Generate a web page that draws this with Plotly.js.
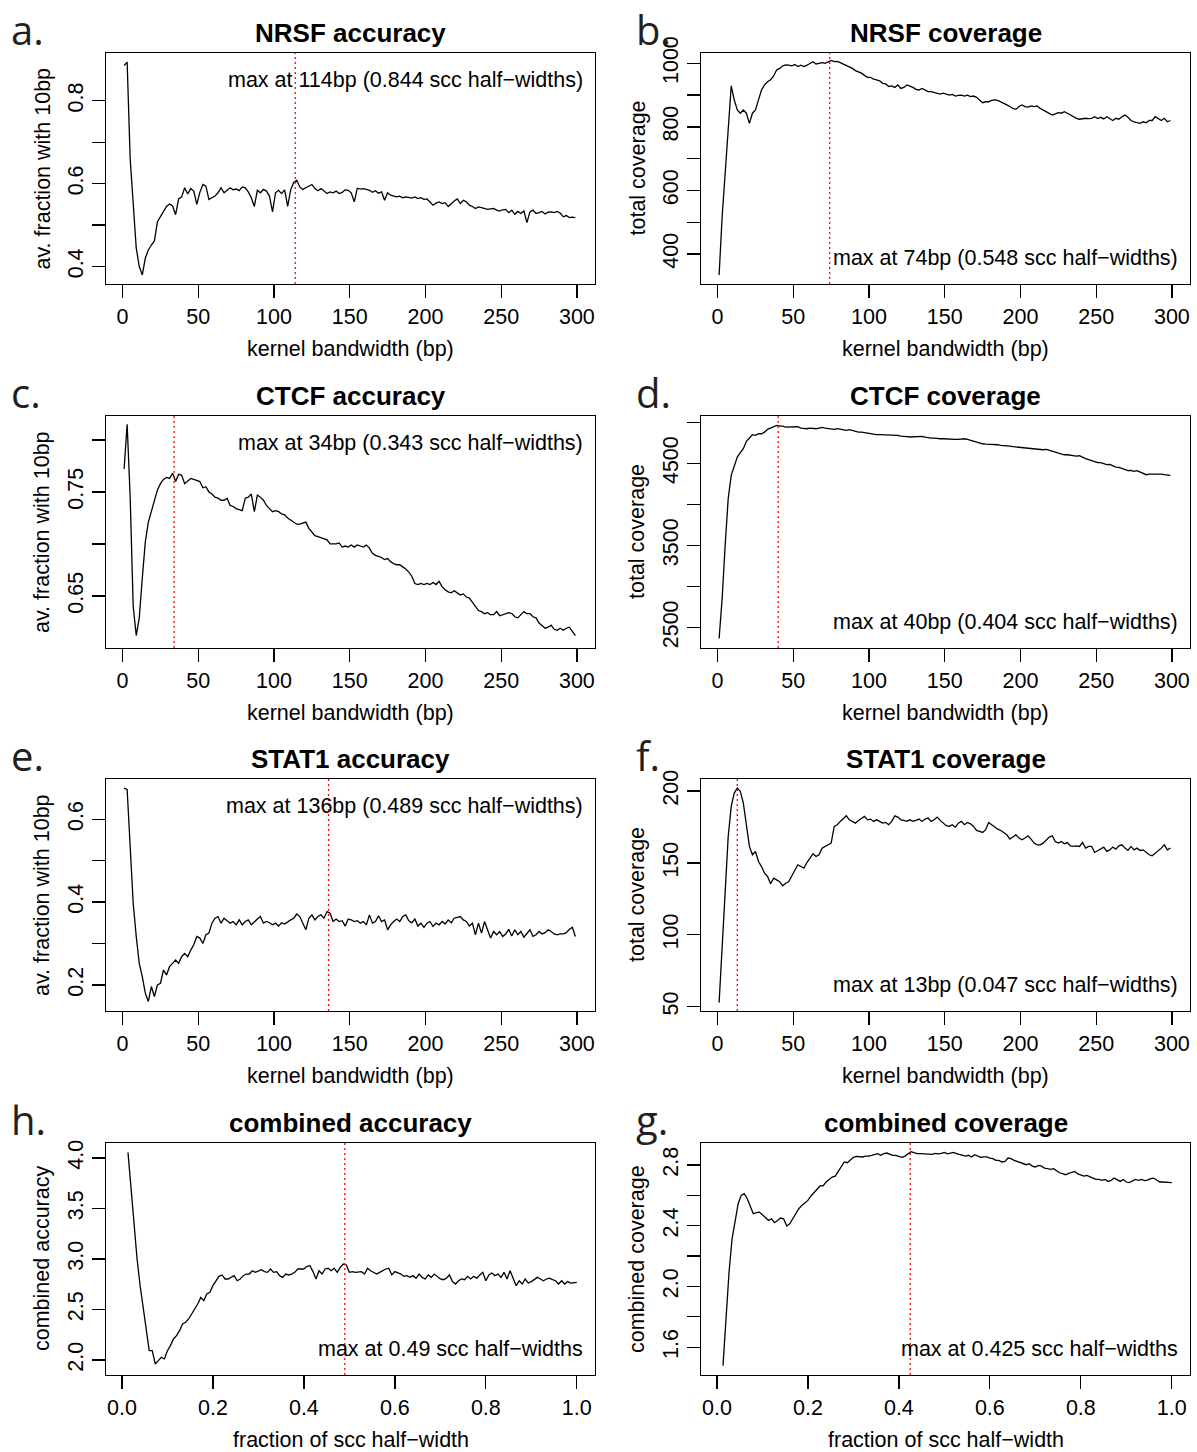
<!DOCTYPE html>
<html>
<head>
<meta charset="utf-8">
<script src="https://cdn.plot.ly/plotly-3.0.1.min.js"></script>
<style>
html, body { margin: 0; padding: 0; background: #ffffff; }
#chart { width: 1197px; height: 1452px; }
</style>
</head>
<body>
<div id="chart"></div>
<script>
// ---------------- data ----------------
// kernel bandwidth grid (bp) and fraction-of-scc-half-width grid
const bandwidthBp = [];
for (let b = 1; b <= 299; b += 2) bandwidthBp.push(b);
const sccFraction = [];
for (let i = 2; i <= 150; i++) sccFraction.push(i / 150);

const bpTicks = [0, 50, 100, 150, 200, 250, 300];
const fracTicks = [0, 0.2, 0.4, 0.6, 0.8, 1.0];
const fracTickText = ['0.0', '0.2', '0.4', '0.6', '0.8', '1.0'];

const nrsfAccuracy = [
0.885, 0.893, 0.660, 0.560, 0.445, 0.400, 0.380, 0.420, 0.440, 0.452,
0.462, 0.508, 0.520, 0.532, 0.545, 0.551, 0.546, 0.525, 0.563, 0.568,
0.590, 0.575, 0.588, 0.582, 0.550, 0.579, 0.598, 0.594, 0.562, 0.566,
0.570, 0.578, 0.590, 0.578, 0.584, 0.590, 0.585, 0.587, 0.583, 0.592,
0.590, 0.580, 0.566, 0.545, 0.584, 0.578, 0.586, 0.582, 0.570, 0.532,
0.578, 0.584, 0.576, 0.585, 0.545, 0.585, 0.603, 0.608, 0.592, 0.586,
0.590, 0.594, 0.598, 0.588, 0.583, 0.588, 0.582, 0.576, 0.580, 0.578,
0.582, 0.576, 0.579, 0.585, 0.584, 0.578, 0.556, 0.589, 0.587, 0.588,
0.586, 0.584, 0.579, 0.583, 0.577, 0.580, 0.560, 0.578, 0.572, 0.570,
0.568, 0.570, 0.566, 0.568, 0.567, 0.565, 0.568, 0.564, 0.566, 0.562,
0.563, 0.556, 0.548, 0.553, 0.556, 0.552, 0.554, 0.545, 0.552, 0.558,
0.563, 0.552, 0.560, 0.556, 0.548, 0.545, 0.540, 0.544, 0.542, 0.540,
0.538, 0.539, 0.540, 0.536, 0.534, 0.537, 0.538, 0.530, 0.536, 0.526,
0.533, 0.528, 0.534, 0.506, 0.532, 0.536, 0.528, 0.530, 0.533, 0.527,
0.531, 0.532, 0.530, 0.533, 0.529, 0.520, 0.523, 0.518, 0.519, 0.518];

const nrsfCoverage = [
334, 517, 654, 801, 929, 885, 853, 843, 853, 843,
811, 843, 853, 885, 916, 932, 942, 948, 960, 979,
984, 992, 995, 994, 992, 996, 990, 994, 990, 994,
1000, 1005, 998, 1000, 1002, 1000, 1004, 1009, 1005, 1006,
1002, 998, 994, 990, 984, 977, 974, 969, 962, 956,
956, 950, 948, 945, 937, 935, 927, 929, 924, 932,
921, 924, 932, 929, 924, 918, 916, 921, 916, 911,
911, 908, 906, 903, 906, 903, 900, 902, 897, 899,
900, 897, 900, 895, 897, 893, 885, 876, 879, 879,
883, 885, 883, 879, 874, 869, 864, 858, 855, 864,
869, 864, 862, 866, 864, 866, 858, 853, 848, 841,
837, 841, 845, 843, 848, 843, 837, 832, 827, 824,
826, 827, 826, 827, 832, 826, 830, 825, 832, 827,
820, 827, 824, 832, 837, 830, 820, 816, 813, 811,
816, 813, 820, 820, 832, 827, 820, 827, 816, 820];

const ctcfAccuracy = [
0.772, 0.815, 0.745, 0.640, 0.612, 0.629, 0.667, 0.702, 0.721, 0.731,
0.740, 0.752, 0.758, 0.762, 0.764, 0.763, 0.768, 0.760, 0.767, 0.766,
0.758, 0.761, 0.763, 0.762, 0.761, 0.760, 0.754, 0.755, 0.750, 0.748,
0.745, 0.744, 0.742, 0.742, 0.744, 0.737, 0.736, 0.734, 0.733, 0.732,
0.744, 0.745, 0.748, 0.731, 0.747, 0.745, 0.742, 0.737, 0.734, 0.731,
0.732, 0.731, 0.729, 0.728, 0.725, 0.723, 0.721, 0.719, 0.719, 0.720,
0.721, 0.715, 0.712, 0.708, 0.707, 0.706, 0.705, 0.704, 0.700, 0.700,
0.700, 0.701, 0.697, 0.698, 0.697, 0.699, 0.697, 0.699, 0.698, 0.697,
0.699, 0.696, 0.691, 0.689, 0.688, 0.687, 0.685, 0.686, 0.683, 0.681,
0.680, 0.680, 0.678, 0.676, 0.673, 0.669, 0.662, 0.661, 0.662, 0.661,
0.662, 0.661, 0.663, 0.661, 0.664, 0.659, 0.656, 0.654, 0.653, 0.655,
0.653, 0.651, 0.652, 0.649, 0.648, 0.644, 0.640, 0.636, 0.635, 0.633,
0.634, 0.632, 0.632, 0.635, 0.631, 0.632, 0.633, 0.634, 0.633, 0.630,
0.629, 0.632, 0.635, 0.633, 0.633, 0.630, 0.629, 0.624, 0.621, 0.619,
0.620, 0.622, 0.618, 0.617, 0.619, 0.617, 0.619, 0.620, 0.616, 0.612];

const ctcfCoverage = [
2366, 2853, 3502, 4070, 4354, 4476, 4577, 4630, 4679, 4768,
4808, 4849, 4841, 4861, 4861, 4881, 4914, 4930, 4938, 4962,
4954, 4954, 4942, 4942, 4946, 4950, 4946, 4930, 4922, 4922,
4930, 4922, 4922, 4930, 4938, 4930, 4922, 4914, 4914, 4922,
4914, 4906, 4902, 4910, 4898, 4889, 4881, 4881, 4873, 4865,
4865, 4857, 4849, 4849, 4849, 4841, 4849, 4841, 4849, 4841,
4833, 4833, 4825, 4821, 4825, 4821, 4829, 4829, 4821, 4812,
4808, 4808, 4800, 4800, 4800, 4796, 4796, 4792, 4792, 4792,
4796, 4800, 4792, 4780, 4768, 4760, 4752, 4739, 4735, 4735,
4727, 4735, 4727, 4719, 4719, 4715, 4711, 4703, 4699, 4695,
4687, 4687, 4679, 4679, 4670, 4670, 4666, 4666, 4670, 4658,
4654, 4638, 4626, 4614, 4605, 4605, 4597, 4597, 4589, 4593,
4573, 4557, 4545, 4532, 4516, 4508, 4508, 4492, 4484, 4488,
4468, 4455, 4451, 4435, 4419, 4411, 4415, 4403, 4411, 4395,
4386, 4362, 4370, 4370, 4374, 4370, 4370, 4362, 4362, 4354];

const stat1Accuracy = [
0.675, 0.672, 0.534, 0.397, 0.317, 0.252, 0.220, 0.180, 0.160, 0.196,
0.172, 0.200, 0.204, 0.236, 0.224, 0.244, 0.252, 0.260, 0.252, 0.268,
0.276, 0.268, 0.284, 0.297, 0.317, 0.313, 0.300, 0.321, 0.325, 0.349,
0.361, 0.365, 0.349, 0.361, 0.355, 0.349, 0.353, 0.345, 0.357, 0.345,
0.353, 0.357, 0.345, 0.353, 0.359, 0.365, 0.349, 0.353, 0.350, 0.345,
0.349, 0.342, 0.350, 0.347, 0.353, 0.357, 0.361, 0.371, 0.365, 0.349,
0.333, 0.361, 0.369, 0.357, 0.365, 0.369, 0.361, 0.377, 0.373, 0.353,
0.359, 0.353, 0.355, 0.342, 0.359, 0.357, 0.353, 0.355, 0.349, 0.353,
0.345, 0.369, 0.349, 0.353, 0.367, 0.353, 0.357, 0.333, 0.345, 0.353,
0.359, 0.353, 0.365, 0.369, 0.355, 0.350, 0.359, 0.342, 0.349, 0.339,
0.349, 0.353, 0.341, 0.349, 0.345, 0.353, 0.347, 0.357, 0.350, 0.361,
0.363, 0.365, 0.357, 0.353, 0.342, 0.349, 0.321, 0.349, 0.325, 0.353,
0.333, 0.313, 0.329, 0.321, 0.329, 0.317, 0.323, 0.334, 0.318, 0.333,
0.321, 0.329, 0.315, 0.325, 0.333, 0.317, 0.321, 0.329, 0.323, 0.326,
0.333, 0.329, 0.323, 0.321, 0.323, 0.323, 0.326, 0.334, 0.339, 0.317];

const stat1Coverage = [
52.8, 91.8, 133.6, 168.4, 189.3, 198.6, 202.1, 199.8, 191.6, 177.7,
161.5, 155.7, 158.0, 151.0, 147.5, 142.9, 140.6, 135.5, 139.4, 138.2,
137.0, 134.1, 135.9, 137.0, 140.6, 145.2, 148.7, 147.5, 146.4, 150.3,
153.3, 156.4, 154.5, 155.7, 160.3, 161.5, 162.6, 163.8, 175.4, 176.6,
178.9, 181.2, 182.8, 180.0, 178.9, 177.7, 179.6, 181.2, 182.4, 180.0,
180.5, 178.9, 180.0, 178.9, 177.7, 178.2, 176.6, 178.9, 182.8, 181.9,
180.0, 179.6, 178.9, 180.0, 178.9, 179.6, 180.5, 178.9, 180.5, 181.2,
178.9, 180.0, 181.9, 179.6, 177.7, 175.9, 175.4, 176.6, 174.9, 177.7,
178.9, 176.6, 178.2, 177.2, 175.4, 172.6, 171.9, 171.2, 173.1, 178.2,
176.6, 174.9, 173.5, 172.6, 171.2, 169.6, 166.6, 168.4, 169.6, 167.3,
166.1, 167.3, 168.9, 166.6, 163.8, 162.6, 162.6, 163.8, 166.1, 168.0,
168.9, 164.9, 163.8, 164.9, 163.3, 164.2, 161.9, 161.5, 161.9, 161.5,
164.2, 160.3, 161.5, 161.5, 157.3, 158.7, 159.6, 161.0, 158.0, 159.1,
161.0, 159.6, 161.9, 162.6, 160.3, 158.7, 161.5, 159.1, 160.3, 158.7,
159.1, 157.3, 155.7, 155.0, 156.8, 158.0, 160.3, 162.6, 159.1, 160.3];

const combinedAccuracy = [
4.056, 3.693, 3.330, 3.000, 2.736, 2.505, 2.274, 2.092, 2.092, 1.960,
1.993, 2.026, 2.010, 2.092, 2.142, 2.208, 2.241, 2.290, 2.356, 2.373,
2.406, 2.455, 2.505, 2.554, 2.620, 2.587, 2.653, 2.670, 2.736, 2.785,
2.828, 2.842, 2.802, 2.802, 2.818, 2.835, 2.785, 2.802, 2.835, 2.851,
2.851, 2.884, 2.868, 2.884, 2.894, 2.875, 2.868, 2.901, 2.868, 2.875,
2.835, 2.818, 2.851, 2.842, 2.851, 2.868, 2.901, 2.901, 2.901, 2.927,
2.934, 2.875, 2.802, 2.884, 2.851, 2.901, 2.908, 2.884, 2.908, 2.868,
2.917, 2.950, 2.941, 2.868, 2.875, 2.868, 2.868, 2.875, 2.851, 2.908,
2.884, 2.868, 2.851, 2.868, 2.884, 2.901, 2.908, 2.842, 2.875, 2.861,
2.851, 2.828, 2.835, 2.818, 2.835, 2.809, 2.851, 2.818, 2.802, 2.842,
2.818, 2.851, 2.828, 2.802, 2.795, 2.809, 2.842, 2.776, 2.752, 2.785,
2.802, 2.795, 2.828, 2.802, 2.828, 2.809, 2.842, 2.868, 2.785, 2.842,
2.861, 2.835, 2.851, 2.818, 2.868, 2.802, 2.884, 2.818, 2.736, 2.785,
2.752, 2.802, 2.762, 2.776, 2.795, 2.818, 2.802, 2.785, 2.802, 2.809,
2.795, 2.785, 2.752, 2.785, 2.752, 2.776, 2.762, 2.769, 2.769];

const combinedCoverage = [
1.479, 1.787, 2.095, 2.314, 2.446, 2.545, 2.600, 2.611, 2.578, 2.523,
2.479, 2.486, 2.490, 2.473, 2.457, 2.435, 2.446, 2.420, 2.435, 2.451,
2.446, 2.398, 2.413, 2.446, 2.479, 2.512, 2.534, 2.552, 2.567, 2.596,
2.618, 2.644, 2.662, 2.662, 2.688, 2.705, 2.721, 2.727, 2.758, 2.793,
2.820, 2.815, 2.831, 2.851, 2.857, 2.853, 2.853, 2.859, 2.859, 2.864,
2.868, 2.875, 2.864, 2.875, 2.879, 2.873, 2.864, 2.864, 2.855, 2.851,
2.859, 2.873, 2.888, 2.881, 2.875, 2.875, 2.873, 2.873, 2.873, 2.870,
2.877, 2.873, 2.877, 2.883, 2.873, 2.877, 2.883, 2.875, 2.868, 2.864,
2.859, 2.864, 2.853, 2.868, 2.859, 2.851, 2.853, 2.853, 2.846, 2.842,
2.831, 2.831, 2.820, 2.824, 2.846, 2.842, 2.831, 2.824, 2.820, 2.811,
2.802, 2.809, 2.793, 2.787, 2.798, 2.793, 2.780, 2.776, 2.771, 2.776,
2.763, 2.749, 2.743, 2.736, 2.745, 2.754, 2.758, 2.741, 2.732, 2.727,
2.732, 2.721, 2.714, 2.705, 2.705, 2.699, 2.705, 2.692, 2.699, 2.714,
2.705, 2.692, 2.705, 2.688, 2.684, 2.692, 2.705, 2.699, 2.705, 2.697,
2.701, 2.710, 2.714, 2.701, 2.688, 2.688, 2.688, 2.684, 2.684];

const panelTitles = ['NRSF accuracy', 'NRSF coverage', 'CTCF accuracy', 'CTCF coverage',
                     'STAT1 accuracy', 'STAT1 coverage', 'combined accuracy', 'combined coverage'];
const panelLetters = ['a.', 'b.', 'c.', 'd.', 'e.', 'f.', 'h.', 'g.'];
const maxPositions = [114, 74, 34, 40, 136, 13, 0.49, 0.425];
const maxLabels = [
  'max at 114bp (0.844 scc half\u2212widths)',
  'max at 74bp (0.548 scc half\u2212widths)',
  'max at 34bp (0.343 scc half\u2212widths)',
  'max at 40bp (0.404 scc half\u2212widths)',
  'max at 136bp (0.489 scc half\u2212widths)',
  'max at 13bp (0.047 scc half\u2212widths)',
  'max at 0.49 scc half\u2212widths',
  'max at 0.425 scc half\u2212widths'];
const yTitles = ['av. fraction with 10bp', 'total coverage', 'av. fraction with 10bp', 'total coverage',
                 'av. fraction with 10bp', 'total coverage', 'combined accuracy', 'combined coverage'];
const xTitleBp = 'kernel bandwidth (bp)';
const xTitleFrac = 'fraction of scc half\u2212width';

// y tick values / labels per panel
const yTickVals = [
  [0.4, 0.5, 0.6, 0.7, 0.8],
  [400, 500, 600, 700, 800, 900, 1000],
  [0.65, 0.70, 0.75, 0.80],
  [2500, 3000, 3500, 4000, 4500, 5000],
  [0.2, 0.3, 0.4, 0.5, 0.6],
  [50, 100, 150, 200],
  [2.0, 2.5, 3.0, 3.5, 4.0],
  [1.6, 1.8, 2.0, 2.2, 2.4, 2.6, 2.8]];
const yTickText = [
  ['0.4', '', '0.6', '', '0.8'],
  ['400', '', '600', '', '800', '', '1000'],
  ['0.65', '', '0.75', ''],
  ['2500', '', '3500', '', '4500', ''],
  ['0.2', '', '0.4', '', '0.6'],
  ['50', '100', '150', '200'],
  ['2.0', '2.5', '3.0', '3.5', '4.0'],
  ['1.6', '', '2.0', '', '2.4', '', '2.8']];

// ---------------- geometry & styles ----------------
const W = 1197, H = 1452;
const colPx = [[106, 595], [701, 1190]];
const rowPx = [[53, 284], [416, 648], [779, 1011], [1143, 1375]];
const bpRange = [-10.96, 311.96];
const fracRange = [-0.035, 1.040];
const yRanges = [[0.358, 0.915], [305.6, 1032.4], [0.600, 0.823], [2251, 5077],
                 [0.137, 0.697], [47.0, 208.4], [1.851, 4.149], [1.417, 2.945]];
const notePos = ['top', 'bottom', 'top', 'bottom', 'top', 'bottom', 'bottom', 'bottom'];

const seriesY = [nrsfAccuracy, nrsfCoverage, ctcfAccuracy, ctcfCoverage,
                 stat1Accuracy, stat1Coverage, combinedAccuracy, combinedCoverage];

const FONT = 'Liberation Sans, Arial, Helvetica, sans-serif';
const FS = 21.5;
const px2x = p => p / W;
const py2y = p => 1 - p / H;

const traces = [];
const shapes = [];
const annotations = [];
const layout = {
  width: W, height: H,
  margin: {l: 0, r: 0, t: 0, b: 0, pad: 0},
  paper_bgcolor: '#ffffff', plot_bgcolor: '#ffffff',
  showlegend: false,
  font: {family: FONT, color: '#000000', size: FS}
};

for (let k = 0; k < 8; k++) {
  const ax = k === 0 ? '' : String(k + 1);
  const col = k % 2, row = Math.floor(k / 2);
  const [x0, x1] = colPx[col];
  const [yt, yb] = rowPx[row];
  const isFrac = k >= 6;

  traces.push({
    type: 'scatter', mode: 'lines',
    x: isFrac ? sccFraction : bandwidthBp,
    y: seriesY[k],
    xaxis: 'x' + ax, yaxis: 'y' + ax,
    line: {color: '#000000', width: 1.3},
    hoverinfo: 'skip', showlegend: false
  });

  layout['xaxis' + ax] = {
    domain: [px2x(x0), px2x(x1)],
    range: isFrac ? fracRange : bpRange,
    anchor: 'y' + ax,
    showline: true, mirror: true, linecolor: '#000000', linewidth: 1.3,
    ticks: 'outside', ticklen: 13, tickwidth: 1.3, tickcolor: '#000000',
    tickmode: 'array',
    tickvals: isFrac ? fracTicks : bpTicks,
    ticktext: isFrac ? fracTickText : bpTicks.map(String),
    tickfont: {family: FONT, size: FS, color: '#000000'},
    ticklabelstandoff: 0,
    showgrid: false, zeroline: false, fixedrange: true
  };
  layout['yaxis' + ax] = {
    domain: [py2y(yb), py2y(yt)],
    range: yRanges[k],
    anchor: 'x' + ax,
    showline: true, mirror: true, linecolor: '#000000', linewidth: 1.3,
    ticks: 'outside', ticklen: 13, tickwidth: 1.3, tickcolor: '#000000',
    tickmode: 'array',
    tickvals: yTickVals[k], ticktext: yTickText[k],
    tickangle: -90,
    tickfont: {family: FONT, size: FS, color: '#000000'},
    ticklabelstandoff: 0,
    showgrid: false, zeroline: false, fixedrange: true
  };

  shapes.push({
    type: 'line', xref: 'x' + ax, yref: 'y' + ax + ' domain',
    x0: maxPositions[k], x1: maxPositions[k], y0: 0, y1: 1,
    line: {color: '#ff0000', width: 1.3, dash: '2px,3px'}
  });

  // panel title
  annotations.push({
    xref: 'paper', yref: 'paper', x: px2x((x0 + x1) / 2), y: py2y(yt - 20),
    xanchor: 'center', yanchor: 'middle', showarrow: false,
    text: '<b>' + panelTitles[k] + '</b>',
    font: {family: FONT, size: 26, color: '#000000'}
  });
  // panel letter
  annotations.push({
    xref: 'paper', yref: 'paper', x: px2x(col === 0 ? 9 : 634), y: py2y(yt - 53),
    xanchor: 'left', yanchor: 'top', showarrow: false,
    text: panelLetters[k],
    font: {family: 'Open Sans, Noto Sans, sans-serif', size: 40, color: '#231f20'}
  });
  // max note
  annotations.push({
    xref: 'paper', yref: 'paper', x: px2x(x1 - 10),
    y: py2y(notePos[k] === 'top' ? yt + 27 : yb - 26),
    xanchor: 'right', yanchor: 'middle', showarrow: false,
    text: maxLabels[k],
    font: {family: FONT, size: FS, color: '#000000'}
  });
  // x title
  annotations.push({
    xref: 'paper', yref: 'paper', x: px2x((x0 + x1) / 2), y: py2y(yb + 65),
    xanchor: 'center', yanchor: 'middle', showarrow: false,
    text: isFrac ? xTitleFrac : xTitleBp,
    font: {family: FONT, size: FS, color: '#000000'}
  });
  // y title
  annotations.push({
    xref: 'paper', yref: 'paper', x: px2x(x0 - 64), y: py2y((yt + yb) / 2),
    xanchor: 'center', yanchor: 'middle', showarrow: false, textangle: -90,
    text: yTitles[k],
    font: {family: FONT, size: FS, color: '#000000'}
  });
}

layout.shapes = shapes;
layout.annotations = annotations;

Plotly.newPlot('chart', traces, layout, {staticPlot: true, displayModeBar: false});
</script>
</body>
</html>
